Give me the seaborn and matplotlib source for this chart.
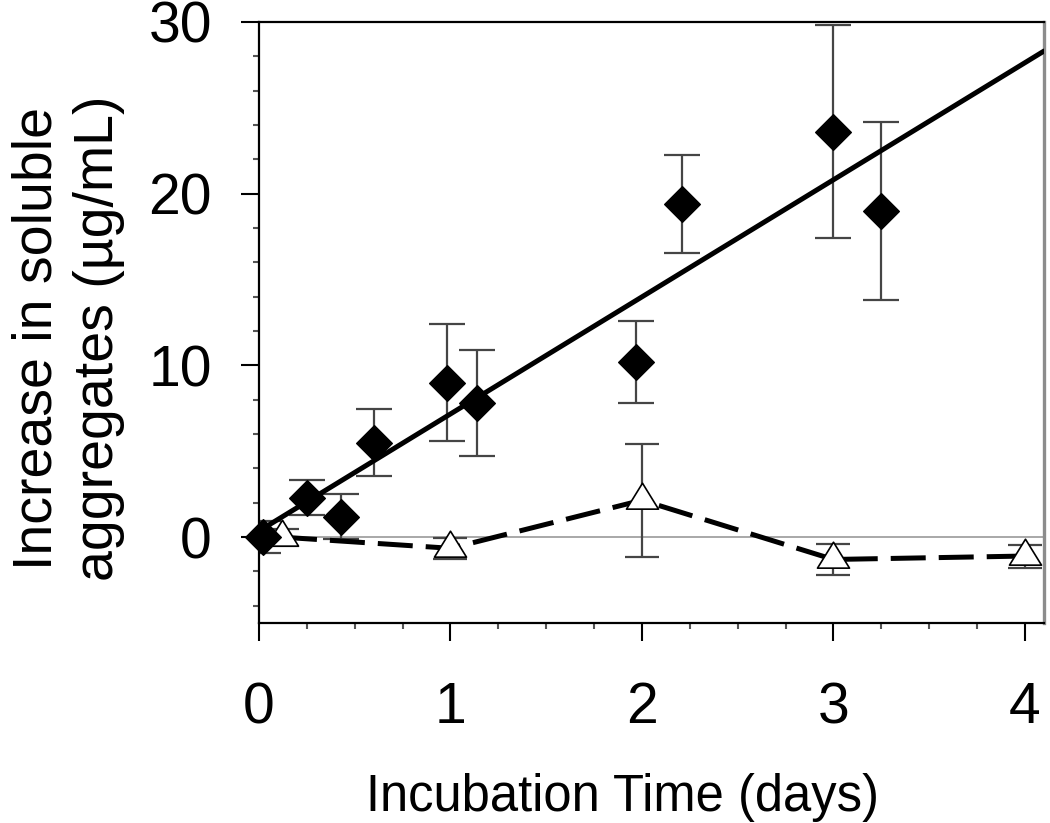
import numpy as np
import pandas as pd
import matplotlib
matplotlib.use("Agg")
import matplotlib.pyplot as plt
from matplotlib.path import Path
from matplotlib.ticker import MultipleLocator
import seaborn as sns

# Filled diamonds (with fitted line)
days_a = [0.02, 0.25, 0.43, 0.60, 0.98, 1.14, 1.97, 2.21, 3.00, 3.25]
agg_a = [0.0, 2.3, 1.2, 5.5, 9.0, 7.8, 10.2, 19.4, 23.6, 19.0]
err_a = [0.95, 1.0, 1.3, 1.95, 3.4, 3.1, 2.4, 2.85, 6.2, 5.2]

# Open triangles (dashed line)
days_b = [0.12, 1.0, 2.0, 3.0, 4.0]
agg_b = [0.0, -0.65, 2.15, -1.3, -1.1]
err_b = [0.5, 0.6, 3.3, 0.9, 0.67]

x_ticks = [0, 1, 2, 3, 4]
y_ticks = [0, 10, 20, 30]

df_a = pd.DataFrame({"days": days_a, "agg": agg_a, "err": err_a})
df_b = pd.DataFrame({"days": days_b, "agg": agg_b, "err": err_b})

sns.set_theme(style="white")
plt.rcParams['font.family'] = ['Liberation Sans', 'DejaVu Sans']
plt.rcParams['text.color'] = 'black'
plt.rcParams['axes.labelcolor'] = 'black'
plt.rcParams['xtick.color'] = 'black'
plt.rcParams['ytick.color'] = 'black'

fig = plt.figure(figsize=(10.5, 8.23), dpi=100)
ax = fig.add_axes([0.2467, 0.2430, 0.7476, 0.7303])
ax.set_xlim(0, 4.1)
ax.set_ylim(-5, 30)

ax.axhline(0, color='#9a9a9a', lw=1.2, zorder=1)

err_col = '#454545'
ax.errorbar(df_a["days"], df_a["agg"], yerr=df_a["err"], fmt='none', ecolor=err_col,
            elinewidth=1.6, capsize=13, capthick=1.6, zorder=2)
ax.errorbar(df_b["days"], df_b["agg"], yerr=df_b["err"], fmt='none', ecolor=err_col,
            elinewidth=1.6, capsize=12, capthick=1.6, zorder=2)

# linear fit through the diamonds, drawn across the whole x range
sns.regplot(data=df_a, x="days", y="agg", ax=ax, scatter=False, ci=None, truncate=False,
            line_kws=dict(color='black', lw=3.6, zorder=3))

sns.lineplot(data=df_b, x="days", y="agg", ax=ax, color='black', lw=3.6,
             linestyle=(0, (7, 2.6)), zorder=3)

# triangle with its centroid on the data point
tri = Path([(-1.0, -0.54), (1.0, -0.54), (0.0, 1.08), (-1.0, -0.54)],
           [Path.MOVETO, Path.LINETO, Path.LINETO, Path.CLOSEPOLY])
sns.scatterplot(data=df_b, x="days", y="agg", ax=ax, marker=tri, s=620,
                color='white', edgecolor='black', linewidth=1.2, zorder=5, clip_on=False)
sns.scatterplot(data=df_a, x="days", y="agg", ax=ax, marker='D', s=330,
                color='black', edgecolor='black', linewidth=1, zorder=6, clip_on=False)

ax.set_xticks(x_ticks)
ax.set_yticks(y_ticks)
ax.set_xticklabels([str(v) for v in x_ticks])
ax.set_yticklabels([str(v) for v in y_ticks])
ax.xaxis.set_minor_locator(MultipleLocator(0.25))
ax.yaxis.set_minor_locator(MultipleLocator(2))
ax.tick_params(which='major', direction='out', length=13, width=1.5, color='black',
               labelsize=41, labelcolor='black', left=True, bottom=True)
ax.tick_params(which='minor', direction='out', length=4.5, width=1.5, color='#555555',
               left=True, bottom=True)
ax.tick_params(axis='x', which='major', pad=29)
ax.tick_params(axis='y', which='major', pad=21)

for side in ['left', 'bottom', 'top']:
    ax.spines[side].set_color('black')
    ax.spines[side].set_linewidth(1.6)
ax.spines['right'].set_color('#8c8c8c')
ax.spines['right'].set_linewidth(2.4)

ax.set_xlabel("Incubation Time (days)", fontsize=36.5, va='baseline', color='black')
ax.xaxis.set_label_coords(0.4624, -0.3128)
ax.set_ylabel("Increase in soluble\naggregates (µg/mL)", fontsize=40, va='center',
              linespacing=1.25, color='black')
ax.yaxis.set_label_coords(-0.2433, 0.474)

fig.savefig("out.png", dpi=100)
